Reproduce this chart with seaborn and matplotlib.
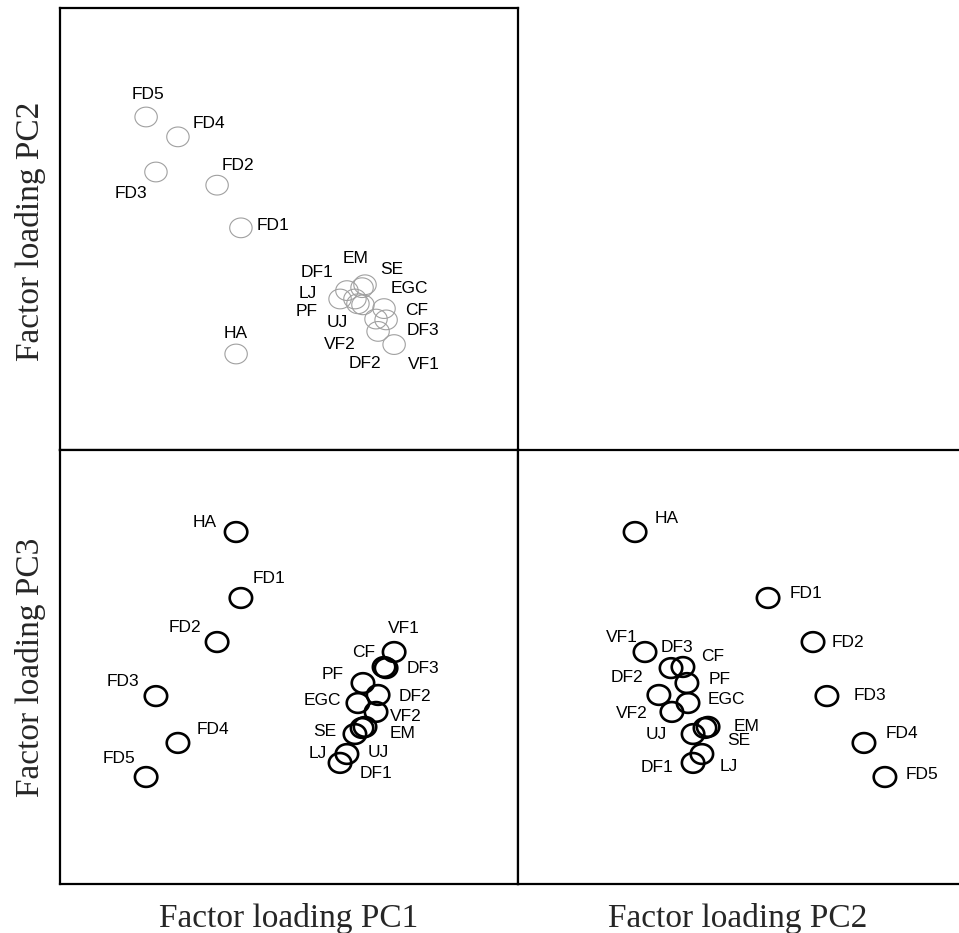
import numpy as np
import pandas as pd
import matplotlib
matplotlib.use("Agg")
import matplotlib.pyplot as plt
from matplotlib.path import Path
import seaborn as sns

# Factor loadings (no ticks in the original, arbitrary units)
variables = ["HA", "FD1", "FD2", "FD3", "FD4", "FD5",
             "VF1", "DF3", "CF", "DF2", "VF2", "EM",
             "PF", "SE", "EGC", "UJ", "LJ", "DF1"]
pc1 = [-0.231, -0.210, -0.314, -0.581, -0.485, -0.624,
       0.459, 0.424, 0.415, 0.389, 0.380, 0.332,
       0.323, 0.319, 0.301, 0.288, 0.253, 0.223]
pc2 = [-0.469, 0.134, 0.338, 0.401, 0.569, 0.664,
       -0.424, -0.306, -0.252, -0.361, -0.302, -0.138,
       -0.234, -0.152, -0.229, -0.206, -0.166, -0.206]
pc3 = [0.622, 0.318, 0.115, -0.134, -0.350, -0.507,
       0.069, -0.005, 0.000, -0.129, -0.207, -0.276,
       -0.074, -0.281, -0.166, -0.309, -0.401, -0.442]

df = pd.DataFrame({"var": variables, "PC1": pc1, "PC2": pc2, "PC3": pc3})

# label offsets in pixels (dx right, dy down) for each panel
off_12 = {"HA": (0, -22), "FD1": (32, -4), "FD2": (21, -21), "FD3": (-25, 20),
          "FD4": (31, -15), "FD5": (2, -24), "VF1": (30, 18), "DF3": (37, 9),
          "CF": (33, 0), "DF2": (-13, 31), "VF2": (-36, 24), "EM": (-9, -28),
          "PF": (-56, 5), "SE": (30, -20), "EGC": (51, -17), "UJ": (-18, 22),
          "LJ": (-39, 1), "DF1": (-23, -28)}
off_13 = {"HA": (-31, -11), "FD1": (28, -21), "FD2": (-32, -16), "FD3": (-33, -16),
          "FD4": (35, -15), "FD5": (-27, -20), "VF1": (10, -25), "DF3": (37, -1),
          "CF": (-20, -16), "DF2": (37, 0), "VF2": (30, 3), "EM": (38, 5),
          "PF": (-30, -10), "SE": (-37, 2), "EGC": (-36, -4), "UJ": (23, 17),
          "LJ": (-29, -2), "DF1": (36, 9)}
off_23 = {"HA": (32, -15), "FD1": (38, -6), "FD2": (35, -1), "FD3": (43, -2),
          "FD4": (38, -11), "FD5": (37, -4), "VF1": (-23, -16), "DF3": (6, -22),
          "CF": (30, -12), "DF2": (-32, -19), "VF2": (-40, 0), "EM": (38, -2),
          "PF": (33, -5), "SE": (34, 11), "EGC": (38, -5), "UJ": (-37, -1),
          "LJ": (27, 11), "DF1": (-36, 3)}

sns.set_style("white")
plt.rcParams["font.family"] = ["Liberation Sans", "DejaVu Sans"]

# slightly flattened circle marker
t = np.linspace(0, 2 * np.pi, 73)
ellipse = Path(np.column_stack([np.cos(t), 0.88 * np.sin(t)]), closed=True)

W, H = 959, 933
fig = plt.figure(figsize=(W / 100, H / 100), dpi=100)


def px_axes(x0, y0, x1, y1):
    return fig.add_axes([x0 / W, (H - y1) / H, (x1 - x0) / W, (y1 - y0) / H])


ax12 = px_axes(60, 8, 518, 450)
ax13 = px_axes(60, 450, 518, 884)
ax23 = px_axes(518, 450, 959, 884)

panels = [
    (ax12, "PC1", "PC2", off_12, "#a0a0a0", 0.8, (-1, 1), (-0.928, 1.185)),
    (ax13, "PC1", "PC3", off_13, "black", 1.9, (-1, 1), (-1, 1)),
    (ax23, "PC2", "PC3", off_23, "black", 1.9, (-1, 1), (-1, 1)),
]

for ax, xc, yc, offs, col, lw, xl, yl in panels:
    sns.scatterplot(data=df, x=xc, y=yc, ax=ax, marker=ellipse, s=260,
                    facecolors="none", edgecolors=col, linewidth=lw, legend=False)
    for _, r in df.iterrows():
        dx, dy = offs[r["var"]]
        ax.annotate(r["var"], (r[xc], r[yc]), xytext=(dx, -dy - 6),
                    textcoords="offset pixels", ha="center", va="baseline",
                    fontsize=12.5, color="black")
    ax.set_xlim(*xl)
    ax.set_ylim(*yl)
    ax.set_xticks([])
    ax.set_yticks([])
    ax.set_xlabel("")
    ax.set_ylabel("")
    for sp in ax.spines.values():
        sp.set_color("black")
        sp.set_linewidth(1.6)

ax23.spines["right"].set_visible(False)

serif = ["Liberation Serif", "DejaVu Serif"]
fig.text(289 / W, (H - 927) / H, "Factor loading PC1", ha="center", va="baseline",
         fontsize=24, family=serif)
fig.text(738 / W, (H - 927) / H, "Factor loading PC2", ha="center", va="baseline",
         fontsize=24, family=serif)
fig.text(30 / W, (H - 231) / H, "Factor loading PC2", ha="center", va="center",
         rotation=90, fontsize=24, family=serif)
fig.text(30 / W, (H - 667) / H, "Factor loading PC3", ha="center", va="center",
         rotation=90, fontsize=24, family=serif)

fig.savefig("out.png", dpi=100)
